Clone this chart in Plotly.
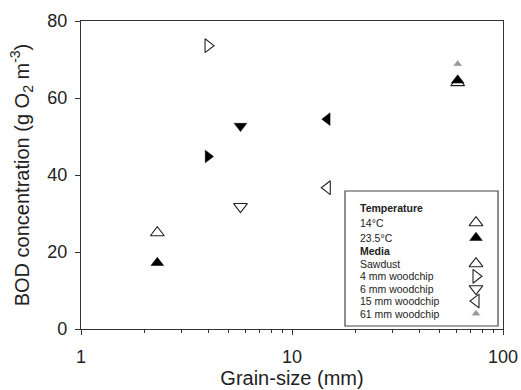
import plotly.graph_objects as go

# ---- data ----
grain_size = [2.3, 4.0, 5.7, 14.7, 61.0]
media = ["Sawdust", "4 mm woodchip", "6 mm woodchip", "15 mm woodchip", "61 mm woodchip"]
media_symbols = ["triangle-up", "triangle-right", "triangle-down", "triangle-left", "triangle-up"]
bod_14C = [25.0, 73.6, 31.8, 36.7, 64.0]
bod_23C = [17.2, 44.8, 52.7, 54.5, 64.6]
grey_x = [61.0]
grey_y = [68.8]
temps = ["14°C", "23.5°C"]
y_ticks = [0, 20, 40, 60, 80]
x_ticks = [1, 10, 100]

FONT = "Liberation Sans, Arial, sans-serif"
INK = "#222222"
W, H = 521, 390
L, R, T, B = 81, 18, 21, 61

fig = go.Figure()

# 14 C open symbols
fig.add_trace(go.Scatter(
    x=grain_size, y=bod_14C, mode="markers", showlegend=False,
    marker=dict(symbol=[s + "-open" for s in media_symbols], size=12,
                color=INK, line=dict(color=INK, width=1.1)),
))
# 23.5 C filled symbols
fig.add_trace(go.Scatter(
    x=grain_size, y=bod_23C, mode="markers", showlegend=False,
    marker=dict(symbol=media_symbols, size=11, color="black",
                line=dict(color="black", width=0.5)),
))
# grey 61 mm point
fig.add_trace(go.Scatter(
    x=grey_x, y=grey_y, mode="markers", showlegend=False,
    marker=dict(symbol="triangle-up", size=9, color="#9a9a9a",
                line=dict(color="white", width=1)),
))

# ---- custom legend (markers on the right, as in the reference) ----
def px_to_paper_x(px):
    return (px - L) / (W - L - R)

def py_to_paper_y(py):
    return (H - B - py) / (H - B - T)

rows_py = {"Temperature": 207.7, temps[0]: 222.7, temps[1]: 237.7, "Media": 251.0}
media_rows = [263.7, 276.3, 288.7, 301.0, 313.7]
text_x = px_to_paper_x(358)
mark_x = px_to_paper_x(476)
LEG_FONT = dict(family=FONT, size=10.5, color=INK)

annotations = []
for label in ["Temperature", "Media"]:
    annotations.append(dict(x=text_x, y=py_to_paper_y(rows_py[label]), xref="paper", yref="paper",
                            text="<b>" + label + "</b>", showarrow=False, xanchor="left",
                            yanchor="middle", font=LEG_FONT))
for label in temps:
    annotations.append(dict(x=text_x, y=py_to_paper_y(rows_py[label]), xref="paper", yref="paper",
                            text=label, showarrow=False, xanchor="left", yanchor="middle",
                            font=LEG_FONT))
for label, py in zip(media, media_rows):
    annotations.append(dict(x=text_x, y=py_to_paper_y(py), xref="paper", yref="paper",
                            text=label, showarrow=False, xanchor="left", yanchor="middle",
                            font=LEG_FONT))

fig.add_trace(go.Scatter(
    x=[mark_x], y=[py_to_paper_y(rows_py[temps[0]])], xaxis="x2", yaxis="y2",
    mode="markers", showlegend=False, hoverinfo="skip",
    marker=dict(symbol="triangle-up-open", size=12, color=INK, line=dict(color=INK, width=1.1)),
))
fig.add_trace(go.Scatter(
    x=[mark_x], y=[py_to_paper_y(rows_py[temps[1]])], xaxis="x2", yaxis="y2",
    mode="markers", showlegend=False, hoverinfo="skip",
    marker=dict(symbol="triangle-up", size=11, color="black", line=dict(color="black", width=0.5)),
))
fig.add_trace(go.Scatter(
    x=[mark_x] * 4, y=[py_to_paper_y(p) for p in media_rows[:4]], xaxis="x2", yaxis="y2",
    mode="markers", showlegend=False, hoverinfo="skip",
    marker=dict(symbol=[s + "-open" for s in media_symbols[:4]], size=12, color=INK,
                line=dict(color=INK, width=1.1)),
))
fig.add_trace(go.Scatter(
    x=[mark_x], y=[py_to_paper_y(media_rows[4])], xaxis="x2", yaxis="y2",
    mode="markers", showlegend=False, hoverinfo="skip",
    marker=dict(symbol="triangle-up", size=9, color="#9a9a9a", line=dict(color="white", width=1)),
))

shapes = [dict(type="rect", xref="paper", yref="paper",
               x0=px_to_paper_x(345), x1=px_to_paper_x(498),
               y0=py_to_paper_y(326), y1=py_to_paper_y(191),
               line=dict(color="#444444", width=1.2), fillcolor="rgba(0,0,0,0)")]

axis_common = dict(showline=True, linecolor="#333333", linewidth=1.3, mirror=True,
                   ticks="outside", tickcolor="#333333", tickwidth=1.2, showgrid=False,
                   zeroline=False, tickfont=dict(family=FONT, size=18, color=INK))

fig.update_layout(
    width=W, height=H,
    margin=dict(l=L, r=R, t=T, b=B, autoexpand=False),
    paper_bgcolor="white", plot_bgcolor="white",
    font=dict(family=FONT, color=INK),
    xaxis=dict(type="log", range=[0, 2], tickvals=x_ticks, ticktext=[str(v) for v in x_ticks],
               ticklen=5, ticklabelstandoff=6,
               minor=dict(ticks="outside", ticklen=3, tickcolor="#333333", tickwidth=1,
                          dtick="D1", showgrid=False),
               title=dict(text="Grain-size (mm)", font=dict(family=FONT, size=20, color=INK),
                          standoff=2),
               **axis_common),
    yaxis=dict(range=[0, 80], tickvals=y_ticks, ticklen=5, ticklabelstandoff=4,
               title=dict(text="BOD concentration (g O<sub>2</sub> m<sup>-3</sup>)",
                          font=dict(family=FONT, size=20, color=INK), standoff=12),
               **axis_common),
    xaxis2=dict(overlaying="x", range=[0, 1], visible=False),
    yaxis2=dict(overlaying="y", range=[0, 1], visible=False),
    annotations=annotations,
    shapes=shapes,
)

fig.write_html("out.html")
